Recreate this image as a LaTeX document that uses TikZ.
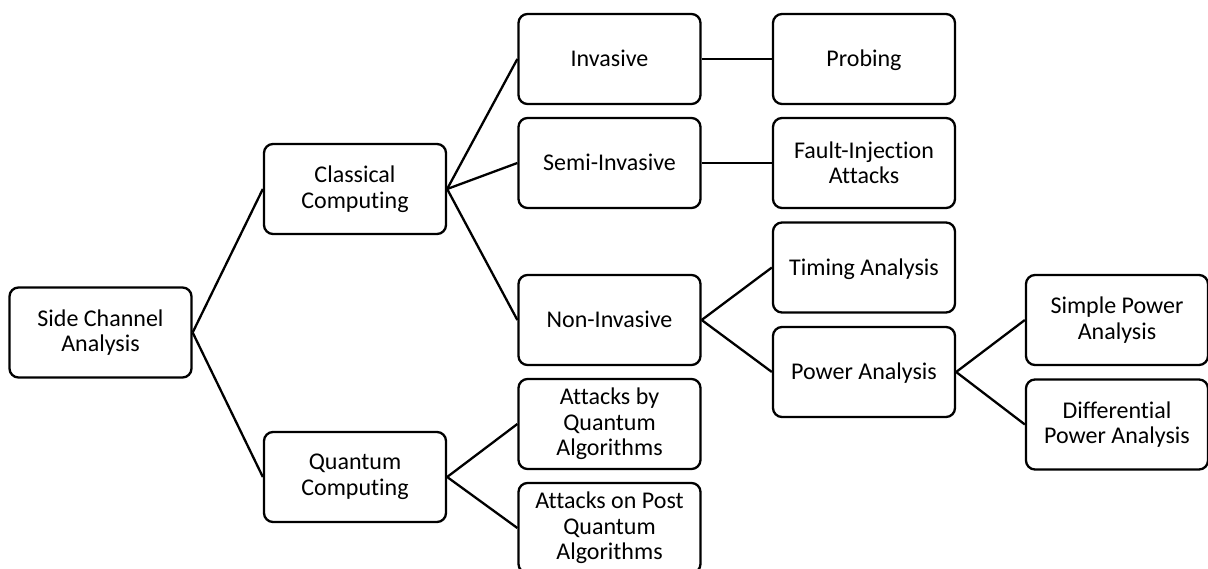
\documentclass[tikz,border=0pt]{standalone}
\usepackage{fontspec}
\setmainfont[Ligatures=NoCommon]{Carlito}
\begin{document}
\begin{tikzpicture}[x=1pt,y=-1pt,
  box/.style={draw=black, line width=2.3pt, rounded corners=9pt, fill=white,
    minimum width=182pt, minimum height=90pt, align=center, inner sep=2pt,
    font=\fontsize{24}{25.5}\selectfont},
  one/.style={text height=15.5pt, text depth=0pt},
  link/.style={draw=black, line width=2.3pt}]
\useasboundingbox (0,0) rectangle (1208,569);
\clip (0,0) rectangle (1208,569);
% tree of nodes
\node[box] (sca)   at (100.5,332.5) {Side Channel\\Analysis};
\node[box] (cc)    at (355,189)     {Classical\\Computing};
\node[box] (qc)    at (355,477)     {Quantum\\Computing};
\node[box,one] (inv)   at (609.5,59)    {Invasive};
\node[box,one] (semi)  at (609.5,163)   {Semi-Invasive};
\node[box,one] (non)   at (609.5,320)   {Non-Invasive};
\node[box] (aqa)   at (609.5,424)   {Attacks by\\Quantum\\Algorithms};
\node[box] (apq)   at (609.5,528)   {Attacks on Post\\Quantum\\Algorithms};
\node[box,one] (prob)  at (864,59)      {Probing};
\node[box] (fault) at (864,163)     {Fault-Injection\\Attacks};
\node[box,one] (tim)   at (864,267.5)   {Timing Analysis};
\node[box,one] (pow)   at (864,372)     {Power Analysis};
\node[box] (spa)   at (1117,320)    {Simple Power\\Analysis};
\node[box] (dpa)   at (1117,424.5)  {Differential\\Power Analysis};
% connectors
\draw[link] (sca.east) -- (cc.west);
\draw[link] (sca.east) -- (qc.west);
\draw[link] (cc.east) -- (inv.west);
\draw[link] (cc.east) -- (semi.west);
\draw[link] (cc.east) -- (non.west);
\draw[link] (qc.east) -- (aqa.west);
\draw[link] (qc.east) -- (apq.west);
\draw[link] (inv.east) -- (prob.west);
\draw[link] (semi.east) -- (fault.west);
\draw[link] (non.east) -- (tim.west);
\draw[link] (non.east) -- (pow.west);
\draw[link] (pow.east) -- (spa.west);
\draw[link] (pow.east) -- (dpa.west);
\end{tikzpicture}
\end{document}
